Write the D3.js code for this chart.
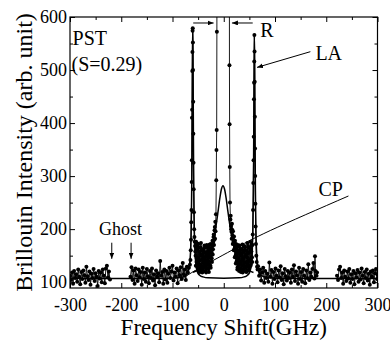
<!DOCTYPE html>
<html><head><meta charset="utf-8">
<script src="https://cdn.jsdelivr.net/npm/d3@7"></script>
<style>
html,body{margin:0;padding:0;background:#fff;}
svg{display:block;}
</style></head><body>
<svg id="chart" width="390" height="341"></svg>
<script>
// ---- data (frequency shift GHz, intensity arb. unit) ----
const wingLeft = [[-300,112],[-298,104],[-296,118],[-294,97],[-292,121],[-290,108],[-288,115],[-286,101],[-284,124],[-282,110],[-280,96],[-278,119],[-276,106],[-274,122],[-272,113],[-270,99],[-268,129],[-266,111],[-264,104],[-262,120],[-260,95],[-258,116],[-256,108],[-254,125],[-252,102],[-250,117],[-248,110],[-246,93],[-244,121],[-242,107],[-240,118],[-238,100],[-236,124],[-234,112],[-232,98],[-230,126],[-228,131],[-226,109],[-224,120],[-222,105]];

const wingCenter = [[-182,110],[-180,128],[-178,104],[-176,122],[-174,97],[-172,126],[-170,113],[-168,102],[-166,124],[-164,109],[-162,119],[-160,95],[-158,127],[-156,106],[-154,118],[-152,101],[-150,125],[-148,111],[-146,98],[-144,121],[-142,108],[-140,126],[-138,103],[-136,115],[-134,94],[-132,122],[-130,110],[-128,117],[-126,100],[-124,140],[-122,112],[-120,119],[-118,97],[-116,124],[-114,105],[-112,121],[-110,99],[-108,116],[-106,127],[-104,108],[-102,120],[-100,131],[-98,103],[-96,118],[-94,110],[-92,126],[-90,98],[-88,122],[-86,113],[-84,128],[-82,106],[-80,136],[-78,115],[-76,124],[-74,104],[-72,129],[-70,118],[-68,127],
[-66,133],[-65,142],[-64.4,160],[-63.9,180],[-63.4,213],[-63,236],[-62.6,289],[-62.3,330],[-62,410],[-61.7,425],[-61.4,498],[-61.1,534],[-60.8,574],[-60.5,579],[-60.2,552],[-59.9,500],[-59.6,440],[-59.3,380],[-59,325],[-58.6,275],[-58.2,232],[-57.7,200],[-57.2,185],[-56.6,176],
[-56,168],[-55.5,158],[-55,150],[-54.5,131],[-54,176],[-53.5,167],[-53,138],[-52.5,145],[-52,162],[-51.5,173],[-51,127],[-50.5,136],[-50,171],[-49.5,122],[-49,145],[-48.5,165],[-48,120],[-47.5,141],[-47,158],[-46.5,119],[-46,133],[-45.5,152],[-45,166],[-44.5,174],[-44,124],[-43.5,130],[-43,150],[-42.5,161],[-42,118],[-41.5,143],[-41,160],[-40.5,123],[-40,137],[-39.5,155],[-39,128],[-38.5,139],[-38,164],[-37.5,169],[-37,143],[-36.5,129],[-36,121],[-35.5,148],[-35,157],[-34.5,118],[-34,134],[-33.5,151],[-33,170],[-32.5,137],[-32,126],[-31.5,166],[-31,152],[-30.5,125],[-30,140],[-29.5,158],[-29,119],[-28.5,133],[-28,163],[-27.5,171],[-27,146],[-26.5,149],[-26,131],[-25.5,127],[-25,172],[-24.5,164],[-24,155],[-23.5,145],[-23,138],[-22.5,168],[-22,178],[-21.5,152],[-21,162],[-20.5,176],[-20,185],[-19.5,190],[-19,170],[-18.5,180],[-18,198],[-17.5,204],[-17,182],[-16.5,214],[-16,196],
[-15.2,228],[-14.6,292],[-14.2,349],[-13.8,387],[-13.4,572],[-13,950],[-12.4,2400],[0,4000],[10.2,2400],[10.8,1000],[11.1,509],[11.4,398],[11.7,317],[12.2,250],
[13,218],[13.5,225],[14,206],[14.5,200],[15,195],[15.5,182],[16,210],[16.5,199],[17,188],[17.5,172],[18,196],[18.5,185],[19,176],[19.5,160],[20,186],[20.5,174],[21,163],[21.5,147],[22,178],[22.5,167],[23,150],[23.5,135],[24,172],[24.5,161],[25,139],[25.5,152],[26,166],[26.5,124],[27,128],[27.5,170],[28,158],[28.5,133],[29,145],[29.5,159],[30,121],[30.5,140],[31,169],[31.5,126],[32,136],[32.5,163],[33,154],[33.5,119],[34,125],[34.5,150],[35,162],[35.5,131],[36,141],[36.5,171],[37,118],[37.5,144],[38,157],[38.5,123],[39,132],[39.5,160],[40,168],[40.5,137],[41,127],[41.5,166],[42,149],[42.5,128],[43,120],[43.5,153],[44,160],[44.5,119],[45,138],[45.5,147],[46,174],[46.5,135],[47,129],[47.5,168],[48,155],[48.5,141],[49,122],[49.5,126],[50,165],[50.5,157],[51,140],[51.5,130],[52,176],[52.5,162],[53,133],[53.5,145],[54,158],[54.5,171],[55,147],[55.5,138],[56,170],
[56.6,190],[57.2,236],[57.7,287],[58.1,330],[58.5,374],[58.9,445],[59.2,476],[59.5,516],[59.8,566],[60.1,535],[60.4,478],[60.7,412],[61,352],[61.3,300],[61.7,248],[62.2,205],[62.8,172],[63.5,150],[64.3,138],[65,129],[66,124],
[67,130],[69,112],[71,124],[73,103],[75,118],[77,127],[79,99],[81,121],[83,108],[85,116],[87,101],[89,137],[91,110],[93,123],[95,97],[97,119],[99,106],[101,126],[103,112],[105,100],[107,122],[109,109],[111,130],[113,104],[115,117],[117,96],[119,125],[121,111],[123,103],[125,121],[127,108],[129,118],[131,99],[133,124],[135,110],[137,132],[139,102],[141,120],[143,113],[145,97],[147,127],[149,106],[151,119],[153,101],[155,125],[157,112],[159,98],[161,122],[163,108],[165,134],[167,104],[169,118],[171,110],[173,125],[175,136],[177,107],[178,149],[179,121],[181,112],[182,118]];

const wingRight = [[221,112],[223,104],[225,124],[227,129],[229,108],[231,118],[233,97],[235,122],[237,110],[239,102],[241,120],[243,107],[245,125],[247,99],[249,115],[251,106],[253,121],[255,96],[257,117],[259,109],[261,123],[263,101],[265,118],[267,105],[269,126],[271,112],[273,98],[275,119],[277,108],[279,124],[281,103],[283,116],[285,95],[287,120],[289,110],[291,122],[293,100],[295,117],[297,125],[299,106],[300,114]];

// fitted LA doublet + background
const fitLAFreq = [-300,-200,-120,-90,-80,-75,-70.5,-67.5,-65.5,-64.5,-63.5,-62.5,-62,-61.5,-61,-60.5,-60,-59.5,-59,-58.5,-57.5,-56.5,-55.5,-53.5,-50.5,-45.5,-40.5,-30.5,0,29.8,39.8,44.8,49.8,52.8,54.8,55.8,56.8,57.8,58.3,58.8,59.3,59.8,60.3,60.8,61.3,61.8,62.8,63.8,64.8,66.8,69.8,74.8,79.8,89.8,120,200,300];
const fitLAVal  = [107,107,107.1,108.2,109.8,112,117,128,146,165,201,277,343,434,532,579,532,434,343,277,201,165,146,128,117,112,110,108.2,107.6,108.2,110,112,117,127,145,163,199,272,337,425,520,566,520,425,337,272,199,163,145,127,117,112,110,108.2,107.1,107,107];

// fitted central peak (CP)
const fitCPFreq = [-60,-54,-48,-42,-37.5,-31.5,-26.5,-22.5,-19.5,-16.5,-13.5,-10.5,-7.5,-4.5,-1.5,1.5,4.5,7.5,10.5,13.5,16.5,20.5,24.5,29.5,34.5,40.5,46.5,52.5,58];
const fitCPVal  = [118.5,121,124.5,129.4,134.4,143.8,155.6,168.7,181.5,197.3,216.4,237.9,259.2,275.7,282,275.7,259.2,237.9,216.4,197.3,181.5,165.1,152.9,142,134.4,128,123.5,120.3,118.1];

const xTicks = [-300,-200,-100,0,100,200,300];
const xMinor = [-250,-150,-50,50,150,250];
const yTicks = [100,200,300,400,500,600];
const yMinor = [150,250,350,450,550];

const FONT = '"Liberation Serif"';

// ---- layout ----
const svg = d3.select("#chart");
const L = 70, R = 377.5, T = 17, B = 288;
const x = d3.scaleLinear().domain([-300,300]).range([L,R]);
const y = d3.scaleLinear().domain([89,600]).range([B,T]);

svg.append("defs").append("clipPath").attr("id","clip")
  .append("rect").attr("x",L).attr("y",T).attr("width",R-L).attr("height",B-T);
const mk = svg.select("defs").append("marker").attr("id","arr")
  .attr("viewBox","0 0 10 8").attr("refX",10).attr("refY",4)
  .attr("markerWidth",6).attr("markerHeight",5).attr("markerUnits","userSpaceOnUse")
  .attr("orient","auto");
mk.append("path").attr("d","M0,0 L10,4 L0,8 Z").attr("fill","#000");

const plot = svg.append("g").attr("clip-path","url(#clip)");

const line = d3.line().x(d=>x(d[0])).y(d=>y(d[1]));
const fitLine = d3.line().x(d=>x(d[0])).y(d=>y(d[1])).curve(d3.curveMonotoneX);

// fits
plot.append("path").datum(fitLAFreq.map((f,i)=>[f,fitLAVal[i]]))
  .attr("d",fitLine).attr("fill","none").attr("stroke","#000").attr("stroke-width",1.5);
plot.append("path").datum(fitCPFreq.map((f,i)=>[f,fitCPVal[i]]))
  .attr("d",fitLine).attr("fill","none").attr("stroke","#000").attr("stroke-width",1.5);

// data
[wingLeft, wingCenter, wingRight].forEach(seg=>{
  plot.append("path").datum(seg).attr("d",line)
    .attr("fill","none").attr("stroke","#000").attr("stroke-width",0.9);
  plot.append("g").selectAll("circle").data(seg).join("circle")
    .attr("cx",d=>x(d[0])).attr("cy",d=>y(d[1])).attr("r",2).attr("fill","#000");
});

// CP pointer curve
const cpPointer = [[-88.9,100.3],[-55.7,122],[16.6,160.6],[90.9,197.4],[243.3,262.5]];
svg.append("path").datum(cpPointer)
  .attr("d",d3.line().x(d=>x(d[0])).y(d=>y(d[1])).curve(d3.curveNatural))
  .attr("fill","none").attr("stroke","#000").attr("stroke-width",1);

// arrows
const arrows = [
  [[-59.6,588.7],[-19.8,588.7]],
  [[56.5,588.7],[16.0,588.7]],
  [[169,534.6],[64.9,505]],
  [[-218.5,174.4],[-218.5,144]],
  [[-180.8,174.4],[-180.8,144]]
];
arrows.forEach(a=>{
  svg.append("line").attr("x1",x(a[0][0])).attr("y1",y(a[0][1]))
    .attr("x2",x(a[1][0])).attr("y2",y(a[1][1]))
    .attr("stroke","#000").attr("stroke-width",1).attr("marker-end","url(#arr)");
});

// text labels
const labels = [
  {t:"PST", f:-295, v:547, s:20, a:"start"},
  {t:"(S=0.29)", f:-297, v:499, s:20, a:"start"},
  {t:"R", f:71.3, v:563, s:20, a:"start"},
  {t:"LA", f:178.8, v:519, s:20, a:"start"},
  {t:"CP", f:184.7, v:262.5, s:20, a:"start"},
  {t:"Ghost", f:-201.3, v:189, s:18, a:"middle"}
];
labels.forEach(l=>{
  svg.append("text").attr("x",x(l.f)).attr("y",y(l.v)).style("font-family",FONT)
    .style("font-size",l.s+"px").attr("text-anchor",l.a).text(l.t);
});

// frame
svg.append("rect").attr("x",L).attr("y",T).attr("width",R-L).attr("height",B-T)
  .attr("fill","none").attr("stroke","#000").attr("stroke-width",1.2);

// axes
function style(g){ g.select(".domain").remove(); g.selectAll("line").attr("stroke","#000").attr("stroke-width",1);
  g.selectAll("text").style("font-family",FONT).style("font-size","18px").attr("fill","#000"); }
const fmt = d=>String(d);
svg.append("g").attr("transform",`translate(0,${B})`)
  .call(d3.axisBottom(x).tickValues(xTicks).tickFormat(fmt).tickSize(-5).tickPadding(10)).call(style);
svg.append("g").attr("transform",`translate(0,${B})`)
  .call(d3.axisBottom(x).tickValues(xMinor).tickFormat("").tickSize(-3)).call(style);
svg.append("g").attr("transform",`translate(0,${T})`)
  .call(d3.axisTop(x).tickValues(xTicks).tickFormat("").tickSize(-5)).call(style);
svg.append("g").attr("transform",`translate(0,${T})`)
  .call(d3.axisTop(x).tickValues(xMinor).tickFormat("").tickSize(-3)).call(style);
svg.append("g").attr("transform",`translate(${L},0)`)
  .call(d3.axisLeft(y).tickValues(yTicks).tickFormat(fmt).tickSize(-5).tickPadding(3)).call(style);
svg.append("g").attr("transform",`translate(${L},0)`)
  .call(d3.axisLeft(y).tickValues(yMinor).tickFormat("").tickSize(-3)).call(style);
svg.append("g").attr("transform",`translate(${R},0)`)
  .call(d3.axisRight(y).tickValues(yTicks).tickFormat("").tickSize(-5)).call(style);
svg.append("g").attr("transform",`translate(${R},0)`)
  .call(d3.axisRight(y).tickValues(yMinor).tickFormat("").tickSize(-3)).call(style);

// axis titles
svg.append("text").attr("x",(L+R)/2).attr("y",335).attr("text-anchor","middle").style("font-family",FONT)
  .style("font-size","23px").text("Frequency Shift(GHz)");
svg.append("text").attr("transform",`translate(31.5,${152.5}) rotate(-90)`).style("font-family",FONT)
  .attr("text-anchor","middle").style("font-size","24px").text("Brillouin Intensity (arb. unit)");
</script>
</body></html>
